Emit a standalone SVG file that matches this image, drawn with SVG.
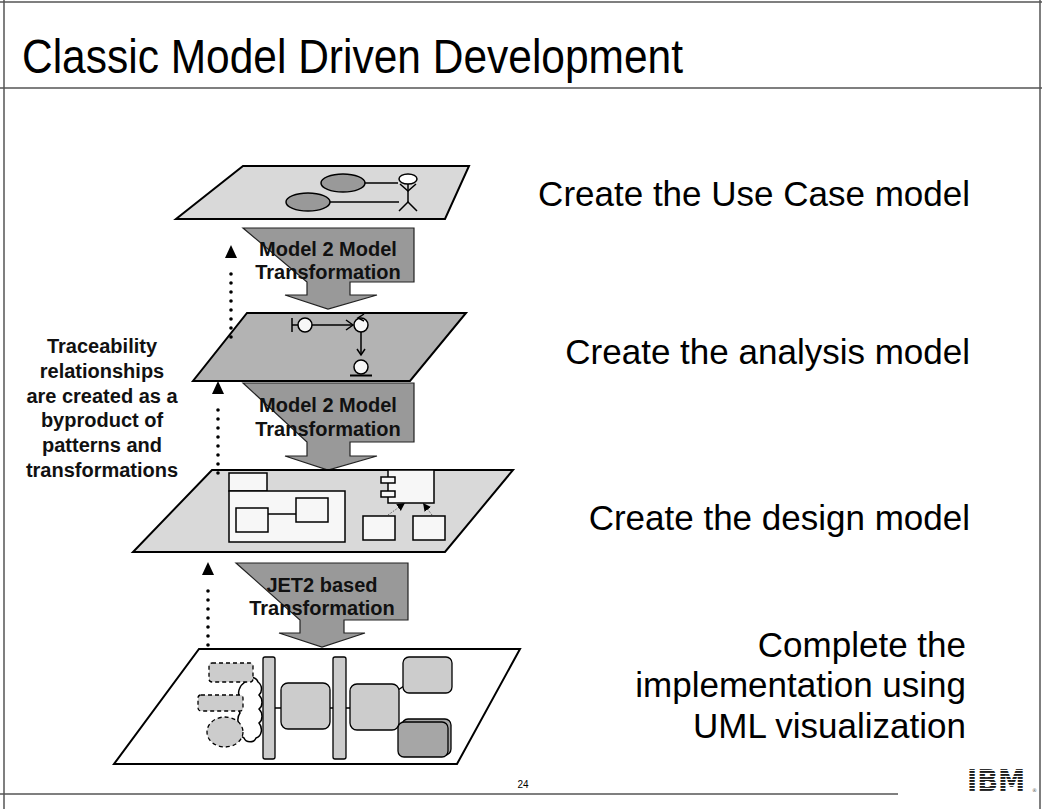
<svg xmlns="http://www.w3.org/2000/svg" width="1042" height="809" viewBox="0 0 1042 809">
  <style>
    .frame { stroke: #555; stroke-width: 1.5; fill: none; }
    .plane { stroke: #000; stroke-width: 2; }
    .xform { fill: #999; stroke: #222; stroke-width: 1.2; }
    .xlabel { font-family: "Liberation Sans", Arial, sans-serif; font-weight: bold; font-size: 20px; text-anchor: middle; fill: #111; }
    .step { font-family: "Liberation Sans", Arial, sans-serif; font-size: 35px; text-anchor: end; fill: #000; }
    .note { font-family: "Liberation Sans", Arial, sans-serif; font-weight: bold; font-size: 20px; text-anchor: middle; fill: #111; }
    .ln { stroke: #000; stroke-width: 1.5; fill: none; }
    .box { fill: #f7f7f7; stroke: #000; stroke-width: 1.5; }
    .ibox { fill: #cccccc; stroke: #000; stroke-width: 1.3; }
    .dash { fill: #cccccc; stroke: #000; stroke-width: 1.3; stroke-dasharray: 4 3; }
    .trace { stroke: #000; stroke-width: 3.6; stroke-linecap: round; stroke-dasharray: 0 9; fill: none; }
  </style>
  <defs>
    <marker id="head" markerUnits="userSpaceOnUse" markerWidth="24" markerHeight="14" viewBox="0 -7 24 14" refX="0" refY="0" orient="auto" overflow="visible">
      <path d="M7,-6 L20,0 L7,6 Z" fill="#000"/>
    </marker>
    <marker id="dep" markerUnits="userSpaceOnUse" markerWidth="10" markerHeight="10" viewBox="0 -5 10 10" refX="8" refY="0" orient="auto">
      <path d="M0,-4 L8,0 L0,4 Z" fill="#000"/>
    </marker>
    <pattern id="stripes" patternUnits="userSpaceOnUse" width="8" height="3">
      <rect x="0" y="0" width="8" height="1.9" fill="#1a1a1a"/>
    </pattern>
  </defs>

  <rect width="1042" height="809" fill="#fff"/>

  <!-- slide frame -->
  <g id="frame">
    <line class="frame" x1="0" y1="2" x2="1042" y2="2"/>
    <line class="frame" x1="4" y1="0" x2="4" y2="809"/>
    <line class="frame" x1="1040" y1="0" x2="1040" y2="809"/>
    <line class="frame" x1="0" y1="88" x2="1042" y2="88"/>
    <line class="frame" x1="0" y1="794" x2="898" y2="794"/>
  </g>

  <g id="title">
    <text x="22" y="73" font-family="Liberation Sans, Arial, sans-serif" font-size="48" fill="#000" textLength="661" lengthAdjust="spacingAndGlyphs">Classic Model Driven Development</text>
  </g>

  <!-- Use case plane -->
  <g id="plane-usecase">
    <polygon class="plane" points="243,166 469,166 445,219 176,219" fill="#d9d9d9"/>
    <ellipse cx="343" cy="183" rx="22" ry="9" fill="#999" stroke="#000" stroke-width="1.5"/>
    <ellipse cx="308" cy="202" rx="22" ry="9" fill="#999" stroke="#000" stroke-width="1.5"/>
    <line class="ln" x1="365" y1="183" x2="398" y2="183"/>
    <line class="ln" x1="330" y1="202" x2="399" y2="202"/>
    <ellipse cx="408" cy="179" rx="9" ry="5" fill="#fff" stroke="#000" stroke-width="1.5"/>
    <polyline class="ln" points="400,184 408,191 416,184"/>
    <line class="ln" x1="408" y1="184" x2="408" y2="202"/>
    <polyline class="ln" points="399,211 408,202 417,211"/>
  </g>

  <g id="xform-1">
    <path class="xform" d="M243,228 H414 V282 H350 V295 H377 L328,309 L285,295 H307 V282 Z"/>
    <text class="xlabel" x="328" y="256">Model 2 Model</text>
    <text class="xlabel" x="328" y="279">Transformation</text>
  </g>

  <!-- Analysis plane -->
  <g id="plane-analysis">
    <polygon class="plane" points="247,313 466,313 410,381 193,381" fill="#b3b3b3"/>
    <line class="ln" x1="292" y1="318" x2="292" y2="332"/>
    <line class="ln" x1="292" y1="325" x2="298" y2="325"/>
    <circle cx="305" cy="325" r="7" fill="#f7f7f7" stroke="#000" stroke-width="1.5"/>
    <line class="ln" x1="312" y1="325" x2="353" y2="325"/>
    <polyline class="ln" points="346,320 353,325 346,330"/>
    <circle cx="361" cy="325" r="7" fill="#f7f7f7" stroke="#000" stroke-width="1.5"/>
    <polyline class="ln" points="364,314 358,318 364,321"/>
    <line class="ln" x1="361" y1="332" x2="361" y2="355"/>
    <polyline class="ln" points="357,349 361,355 365,349"/>
    <circle cx="361" cy="367" r="7" fill="#f7f7f7" stroke="#000" stroke-width="1.5"/>
    <line x1="350" y1="375.5" x2="372" y2="375.5" stroke="#000" stroke-width="2"/>
  </g>

  <g id="xform-2">
    <path class="xform" d="M243,383 H414 V442 H350 V456 H377 L328,470 L285,456 H307 V442 Z"/>
    <text class="xlabel" x="328" y="412">Model 2 Model</text>
    <text class="xlabel" x="328" y="436">Transformation</text>
  </g>

  <!-- Design plane -->
  <g id="plane-design">
    <polygon class="plane" points="212,470 513,470 445,552 133,552" fill="#d9d9d9"/>
    <rect class="box" x="229" y="473" width="38" height="18"/>
    <rect class="box" x="229" y="491" width="116" height="51"/>
    <rect class="box" x="236" y="508" width="32" height="24"/>
    <rect class="box" x="296" y="498" width="32" height="24"/>
    <line class="ln" x1="268" y1="514" x2="296" y2="514"/>
    <rect class="box" x="388" y="470" width="46" height="33"/>
    <rect class="box" x="381" y="477" width="14" height="6"/>
    <rect class="box" x="381" y="491" width="14" height="6"/>
    <rect class="box" x="363" y="516" width="32" height="24"/>
    <rect class="box" x="413" y="516" width="32" height="24"/>
    <line x1="388" y1="515" x2="405" y2="503" stroke="#444" stroke-width="0.8" stroke-dasharray="1.5 1.5" marker-end="url(#dep)"/>
    <line x1="432" y1="515" x2="423" y2="503" stroke="#444" stroke-width="0.8" stroke-dasharray="1.5 1.5" marker-end="url(#dep)"/>
  </g>

  <g id="xform-3">
    <path class="xform" d="M236,563 H408 V620 H344 V633 H365 L322,647 L279,633 H300 V620 Z"/>
    <text class="xlabel" x="322" y="592">JET2 based</text>
    <text class="xlabel" x="322" y="615">Transformation</text>
  </g>

  <!-- Implementation plane -->
  <g id="plane-implementation">
    <polygon class="plane" points="199,649 520,649 457,764 114,764" fill="#fff"/>
    <path class="ln" stroke-width="1.2" d="M245,682 C247,676 256,676 258,682 C263,686 262,692 259,695 C263,699 263,706 259,709 C263,713 263,720 259,723 C263,728 262,736 256,738 C254,743 246,743 244,738 C240,736 239,731 241,728 C237,724 237,717 240,713 C237,708 237,701 240,698 C237,693 239,686 245,682 Z"/>
    <rect class="dash" x="209" y="663" width="44" height="19" rx="3"/>
    <rect class="dash" x="198" y="695" width="45" height="16" rx="3"/>
    <ellipse class="dash" cx="225" cy="732" rx="18" ry="15"/>
    <line class="ln" x1="275" y1="708" x2="281" y2="708"/>
    <line class="ln" x1="330" y1="708" x2="333" y2="708"/>
    <line class="ln" x1="346" y1="708" x2="350" y2="708"/>
    <line class="ln" x1="398" y1="690" x2="404" y2="686"/>
    <rect class="ibox" x="263" y="657" width="12" height="102" rx="2"/>
    <rect class="ibox" x="281" y="683" width="49" height="46" rx="7"/>
    <rect class="ibox" x="333" y="657" width="13" height="102" rx="2"/>
    <rect class="ibox" x="350" y="684" width="49" height="46" rx="7"/>
    <rect class="ibox" x="403" y="657" width="49" height="36" rx="6"/>
    <rect x="402" y="719" width="49" height="36" rx="6" fill="#a6a6a6" stroke="#000" stroke-width="1.3"/>
    <rect x="398" y="722" width="50" height="35" rx="6" fill="#a6a6a6" stroke="#000" stroke-width="1.3"/>
  </g>

  <!-- traceability links -->
  <g id="connectors">
    <path class="trace" d="M231,337 V265" marker-end="url(#head)"/>
    <path class="trace" d="M218,473 V401" marker-end="url(#head)"/>
    <path class="trace" d="M208,645 V582" marker-end="url(#head)"/>
  </g>

  <g id="note-traceability">
    <text class="note" x="102" y="353">Traceability</text>
    <text class="note" x="102" y="378">relationships</text>
    <text class="note" x="102" y="403">are created as a</text>
    <text class="note" x="102" y="427">byproduct of</text>
    <text class="note" x="102" y="452">patterns and</text>
    <text class="note" x="102" y="477">transformations</text>
  </g>

  <g id="steps">
    <text class="step" x="970" y="206">Create the Use Case model</text>
    <text class="step" x="970" y="364">Create the analysis model</text>
    <text class="step" x="970" y="530">Create the design model</text>
    <text class="step" x="966" y="657">Complete the</text>
    <text class="step" x="966" y="697">implementation using</text>
    <text class="step" x="966" y="738">UML visualization</text>
  </g>

  <g id="footer">
    <text x="523" y="788" font-family="Liberation Sans, Arial, sans-serif" font-size="10" text-anchor="middle" fill="#000">24</text>
    <text x="967" y="791" font-family="DejaVu Sans, sans-serif" font-weight="bold" font-size="31" fill="url(#stripes)" textLength="58" lengthAdjust="spacingAndGlyphs">IBM</text>
    <text x="1032" y="792" font-family="DejaVu Sans, sans-serif" font-size="5" fill="#555">®</text>
  </g>
</svg>
